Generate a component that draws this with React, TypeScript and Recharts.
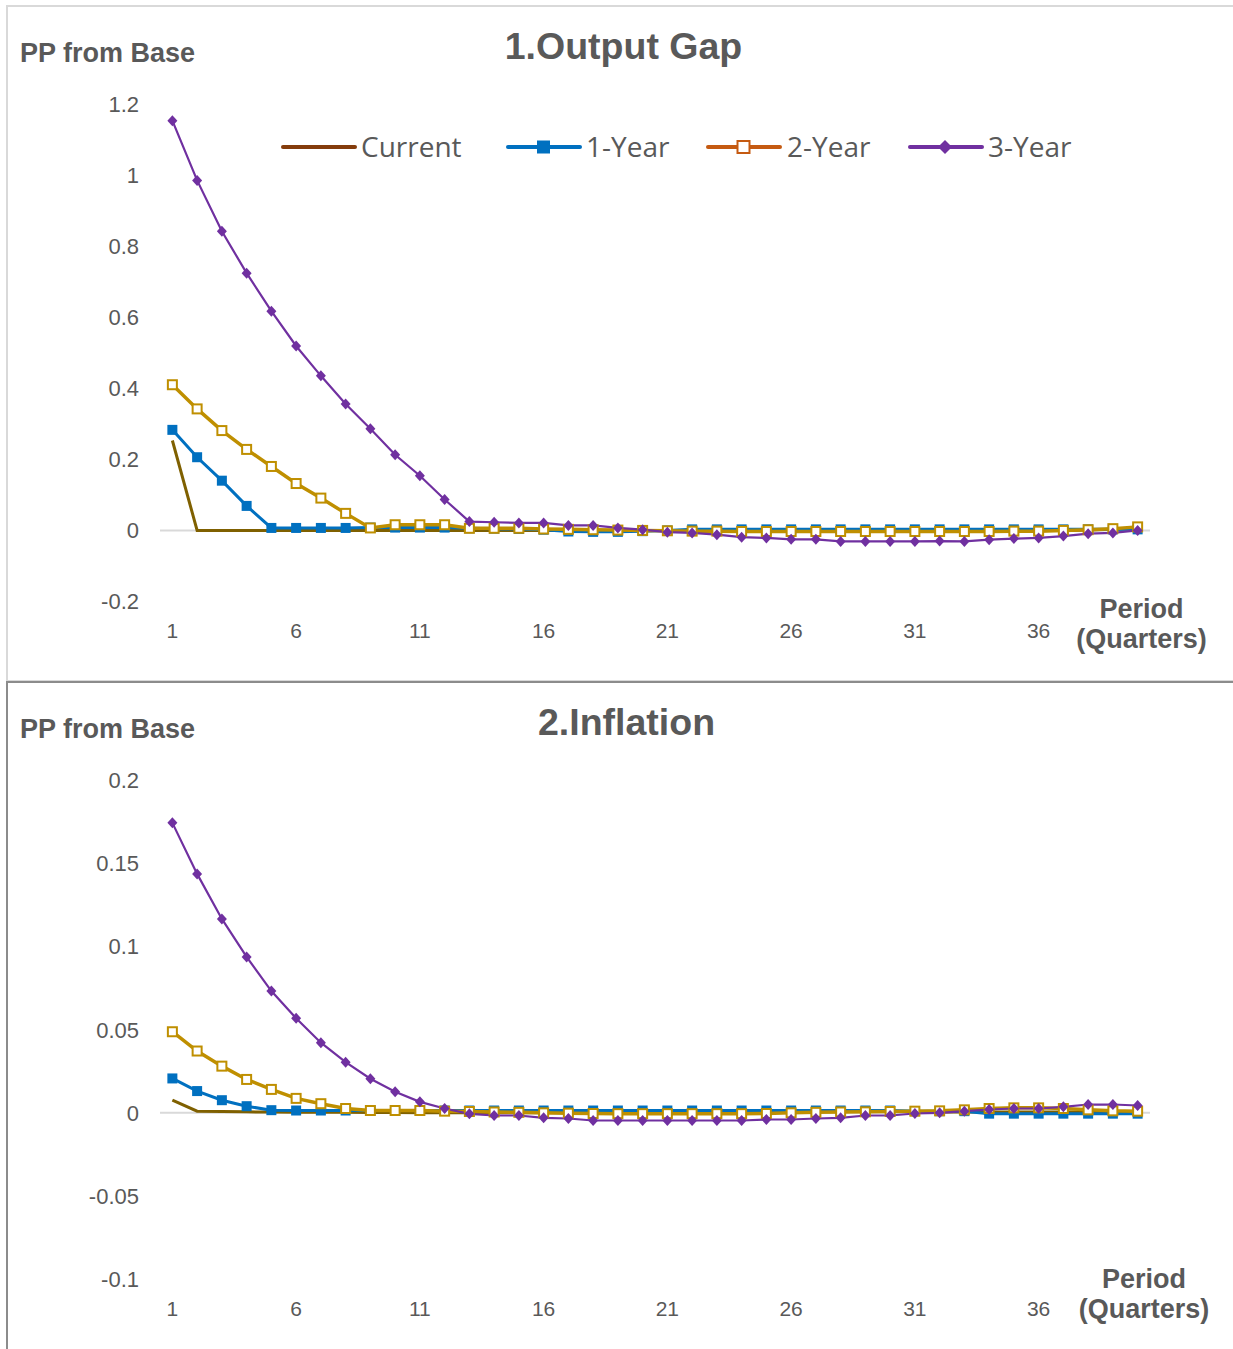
import { LineChart, Line, XAxis, YAxis, ReferenceLine, Legend } from 'recharts';

// categories: period (quarters)
const periods = [
  1, 2, 3, 4, 5, 6, 7, 8, 9, 10, 11, 12, 13, 14, 15, 16, 17, 18, 19, 20,
  21, 22, 23, 24, 25, 26, 27, 28, 29, 30, 31, 32, 33, 34, 35, 36, 37, 38, 39, 40,
];
const xTicks = [1, 6, 11, 16, 21, 26, 31, 36];

// 1. Output gap
const gapCurrent = [
  0.253, 0, 0, 0, 0, 0, 0, 0, 0, 0, 0, 0, 0, 0, 0, 0, 0, 0, 0, 0,
  0, 0, 0, 0, 0, 0, 0, 0, 0, 0, 0, 0, 0, 0, 0, 0, 0, 0.001, 0.003, 0.005,
];
const gap1Y = [
  0.283, 0.206, 0.14, 0.069, 0.007, 0.007, 0.007, 0.007, 0.008, 0.008,
  0.008, 0.008, 0.006, 0.005, 0.004, 0.002, -0.003, -0.004, -0.004, -0.002,
  0.0, 0.003, 0.003, 0.003, 0.003, 0.003, 0.003, 0.003, 0.003, 0.003,
  0.003, 0.003, 0.003, 0.003, 0.003, 0.003, 0.003, 0.003, 0.003, 0.003,
];
const gap2Y = [
  0.41, 0.342, 0.281, 0.228, 0.18, 0.132, 0.091, 0.048, 0.007, 0.016,
  0.016, 0.016, 0.006, 0.006, 0.006, 0.004, 0.003, 0.002, 0.001, 0.0,
  -0.001, -0.002, -0.002, -0.003, -0.003, -0.003, -0.003, -0.003, -0.003, -0.003,
  -0.003, -0.003, -0.003, -0.003, -0.002, -0.002, 0.0, 0.002, 0.005, 0.01,
];
const gap3Y = [
  1.153, 0.985, 0.842, 0.724, 0.617, 0.519, 0.435, 0.356, 0.286, 0.213,
  0.154, 0.087, 0.025, 0.023, 0.021, 0.021, 0.014, 0.014, 0.007, 0.002,
  -0.005, -0.007, -0.012, -0.019, -0.021, -0.025, -0.025, -0.031, -0.031, -0.031,
  -0.031, -0.03, -0.031, -0.026, -0.023, -0.021, -0.016, -0.009, -0.007, 0.0,
];

// 2. Inflation
const infCurrent = [
  0.0076, 0.001, 0.0008, 0.0006, 0.0005, 0.0004, 0.0004, 0.0003, 0.0002, 0.0002,
  0.0001, 0.0001, 0, 0, 0, 0, 0, 0, 0, 0,
  0, 0, 0, 0, 0, 0.001, 0.001, 0.001, 0.001, 0.001,
  0.001, 0.0005, 0.0005, 0.0005, 0.0005, 0.0005, 0.0005, 0.0005, 0.0005, 0.0005,
];
const inf1Y = [
  0.0207, 0.0131, 0.0076, 0.004, 0.0016, 0.0014, 0.0014, 0.0014, 0.0014, 0.0014,
  0.0014, 0.0014, 0.0014, 0.0014, 0.0014, 0.0014, 0.0014, 0.0014, 0.0014, 0.0014,
  0.0014, 0.0014, 0.0014, 0.0014, 0.0014, 0.0014, 0.0014, 0.0014, 0.0014, 0.0014,
  0.001, 0.001, 0.001, -0.0005, -0.0005, -0.0005, -0.0005, -0.0005, -0.0005, -0.0005,
];
const inf2Y = [
  0.0488, 0.0372, 0.0281, 0.0201, 0.0141, 0.0087, 0.0055, 0.0026, 0.0014, 0.0014,
  0.0014, 0.001, 0.0008, 0.0005, 0.0003, 0, -0.0002, -0.0004, -0.0005, -0.0005,
  -0.0005, -0.0005, -0.0005, -0.0005, -0.0004, 0, 0.0003, 0.0005, 0.0006, 0.0008,
  0.001, 0.0012, 0.0018, 0.0026, 0.003, 0.003, 0.0026, 0.0018, 0.0012, 0.001,
];
const inf3Y = [
  0.1745, 0.1438, 0.1167, 0.0938, 0.0733, 0.0569, 0.0422, 0.0305, 0.0205, 0.0127,
  0.0066, 0.0026, -0.0006, -0.0016, -0.0016, -0.003, -0.0034, -0.0046, -0.0046, -0.0046,
  -0.0046, -0.0046, -0.0046, -0.0046, -0.004, -0.004, -0.0034, -0.003, -0.0016, -0.0016,
  -0.0004, 0, 0.001, 0.002, 0.0026, 0.0026, 0.0036, 0.005, 0.005, 0.0044,
];

const gapTicks = [-0.2, 0, 0.2, 0.4, 0.6, 0.8, 1, 1.2];
const infTicks = [-0.1, -0.05, 0, 0.05, 0.1, 0.15, 0.2];

const buildRows = (cur: number[], y1: number[], y2: number[], y3: number[]) =>
  periods.map((p, i) => ({ period: p, current: cur[i], y1: y1[i], y2: y2[i], y3: y3[i] }));

const gapData = buildRows(gapCurrent, gap1Y, gap2Y, gap3Y);
const infData = buildRows(infCurrent, inf1Y, inf2Y, inf3Y);

const TEXT = '#595959';
const ARIAL = '"Liberation Sans", Arial, sans-serif';

const squareDot = (p: any) => (
  <rect key={`sq-${p.index}`} x={p.cx - 5} y={p.cy - 5} width={10} height={10} fill="#0070C0" />
);
const hollowDot = (p: any) => (
  <rect key={`hs-${p.index}`} x={p.cx - 4.5} y={p.cy - 4.5} width={9} height={9} fill="#fff" stroke="#BF8F00" strokeWidth={2} />
);
const diamondDot = (p: any) => (
  <path
    key={`dm-${p.index}`}
    d={`M${p.cx},${p.cy - 5.5}L${p.cx + 5},${p.cy}L${p.cx},${p.cy + 5.5}L${p.cx - 5},${p.cy}Z`}
    fill="#7030A0"
  />
);

const renderLegend = () => (
  <svg width={1233} height={44} style={{ display: 'block' }}>
    <g fontFamily='"Open Sans", sans-serif' fontSize={28} fill={TEXT}>
      <line x1={283} y1={20} x2={355} y2={20} stroke="#843C0C" strokeWidth={4} strokeLinecap="round" />
      <text x={361} y={30}>Current</text>

      <line x1={508} y1={20} x2={580} y2={20} stroke="#0070C0" strokeWidth={4} strokeLinecap="round" />
      <rect x={537} y={13.5} width={13} height={13} fill="#0070C0" />
      <text x={586} y={30}>1-Year</text>

      <line x1={708} y1={20} x2={780} y2={20} stroke="#C55A11" strokeWidth={4} strokeLinecap="round" />
      <rect x={737.5} y={14} width={12} height={12} fill="#fff" stroke="#C55A11" strokeWidth={2} />
      <text x={787} y={30}>2-Year</text>

      <line x1={910} y1={20} x2={982} y2={20} stroke="#7030A0" strokeWidth={4} strokeLinecap="round" />
      <path d="M945,13L952,20L945,27L938,20Z" fill="#7030A0" />
      <text x={988} y={30}>3-Year</text>
    </g>
  </svg>
);

type PanelProps = {
  data: any[];
  top: number;
  height: number;
  marginTop: number;
  marginBottom: number;
  domain: [number, number];
  ticks: number[];
  legend?: boolean;
};

const Panel = ({ data, top, height, marginTop, marginBottom, domain, ticks, legend }: PanelProps) => (
  <div style={{ position: 'absolute', left: 0, top }}>
    <LineChart
      width={1233}
      height={height}
      data={data}
      margin={{ top: marginTop, right: 83, bottom: marginBottom, left: 100 }}
    >
      <XAxis
        dataKey="period"
        type="number"
        domain={[0.5, 40.5]}
        ticks={xTicks}
        interval={0}
        allowDataOverflow
        axisLine={false}
        tickLine={false}
        tickSize={0}
        tickMargin={22}
        height={30}
        tick={{ fill: TEXT, fontSize: 21, fontFamily: ARIAL }}
      />
      <YAxis
        domain={domain}
        ticks={ticks}
        interval={0}
        allowDataOverflow
        axisLine={false}
        tickLine={false}
        tickSize={0}
        tickMargin={21}
        width={60}
        tick={{ fill: TEXT, fontSize: 22, fontFamily: ARIAL }}
      />
      <ReferenceLine y={0} stroke="#d9d9d9" strokeWidth={2} />
      {legend && (
        <Legend
          layout="horizontal"
          verticalAlign="middle"
          align="center"
          wrapperStyle={{ left: 0, top: 127, width: 1233, height: 44 }}
          content={renderLegend}
        />
      )}
      <Line type="linear" dataKey="current" stroke="#7F6000" strokeWidth={3} dot={false} activeDot={false} isAnimationActive={false} />
      <Line type="linear" dataKey="y1" stroke="#0070C0" strokeWidth={3} dot={squareDot} activeDot={false} isAnimationActive={false} />
      <Line type="linear" dataKey="y2" stroke="#BF8F00" strokeWidth={3.5} dot={hollowDot} activeDot={false} isAnimationActive={false} />
      <Line type="linear" dataKey="y3" stroke="#7030A0" strokeWidth={2.2} dot={diamondDot} activeDot={false} isAnimationActive={false} />
    </LineChart>
  </div>
);

const App = () => (
  <div style={{ position: 'absolute', left: 0, top: 0, width: 1233, height: 1349, background: '#fff', overflow: 'hidden' }}>
    <div style={{ position: 'absolute', left: 6, top: 5, width: 1240, height: 673, borderTop: '2px solid #d9d9d9', borderLeft: '2px solid #d9d9d9', borderBottom: '2px solid #d9d9d9' }} />
    <div style={{ position: 'absolute', left: 6, top: 681, width: 1240, height: 700, borderTop: '2px solid #8c8c8c', borderLeft: '2px solid #8c8c8c' }} />

    <Panel data={gapData} top={0} height={680} marginTop={104} marginBottom={48.5} domain={[-0.2, 1.2]} ticks={gapTicks} legend />
    <Panel data={infData} top={681} height={668} marginTop={99.5} marginBottom={40} domain={[-0.1, 0.2]} ticks={infTicks} />

    <svg width={1233} height={1349} style={{ position: 'absolute', left: 0, top: 0, pointerEvents: 'none' }}>
      <g fontFamily={ARIAL} fontWeight="bold" fill={TEXT}>
        <text x={20} y={61.7} fontSize={27}>PP from Base</text>
        <text x={623.5} y={59} fontSize={37.5} textAnchor="middle">1.Output Gap</text>
        <text x={1141.5} y={618} fontSize={27} textAnchor="middle">Period</text>
        <text x={1141.5} y={648} fontSize={27} textAnchor="middle">(Quarters)</text>

        <text x={20} y={738.3} fontSize={27}>PP from Base</text>
        <text x={626.5} y={735} fontSize={37.5} textAnchor="middle">2.Inflation</text>
        <text x={1144} y={1288} fontSize={27} textAnchor="middle">Period</text>
        <text x={1144} y={1318} fontSize={27} textAnchor="middle">(Quarters)</text>
      </g>
    </svg>
  </div>
);

export default App;
